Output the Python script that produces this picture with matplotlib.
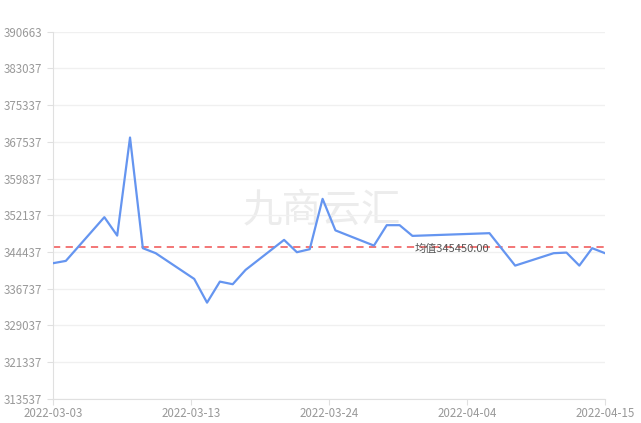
import numpy as np
import pandas as pd
import matplotlib
matplotlib.use("Agg")
import matplotlib.pyplot as plt

plt.rcParams['font.family'] = ['Noto Sans CJK SC', 'DejaVu Sans']

# days after 2022-03-03 that carry a value, and the values
day_offsets = [0, 1, 4, 5, 6, 7, 8, 11, 12, 13, 14, 15, 18, 19, 20, 21, 22,
               25, 26, 27, 28, 34, 36, 39, 40, 41, 42, 43]
prices = [342075, 342558, 351748, 347879, 368488, 345229, 344178, 338773,
          333789, 338205, 337658, 340666, 346975, 344387, 345019, 355597,
          348973, 345776, 350066, 350066, 347816, 348384, 341570, 344178,
          344304, 341570, 345229, 344178]
mean_value = 345450.00
y_ticks = [313537, 321337, 329037, 336737, 344437, 352137, 359837, 367537,
           375337, 383037, 390663]
x_tick_labels = ["2022-03-03", "2022-03-13", "2022-03-24", "2022-04-04", "2022-04-15"]

start = pd.Timestamp("2022-03-03")
dates = [start + pd.Timedelta(days=d) for d in day_offsets]
x_num = matplotlib.dates.date2num(dates)

fig = plt.figure(figsize=(6.41, 4.23), dpi=100)
ax = fig.add_axes([53 / 641, 1 - 399 / 423, 552 / 641, 367 / 423])

ax.text(0.487, 0.51, "九商云汇", transform=ax.transAxes, fontsize=28.5,
        color="#ececec", ha="center", va="center", zorder=0)

ax.plot(x_num, prices, color="#6595f0", lw=1.6, zorder=3)
ax.axhline(mean_value, color="#f26b6b", lw=1.3, ls=(0, (4, 3)), zorder=2)
ax.text(matplotlib.dates.date2num(start + pd.Timedelta(days=28.2)), mean_value - 350,
        f"均值{mean_value:.2f}", fontsize=8, color="#555555",
        ha="left", va="center", zorder=4)

ax.set_ylim(y_ticks[0], y_ticks[-1])
ax.set_yticks(y_ticks)
ax.set_yticklabels([str(v) for v in y_ticks])
x0 = x_num[0]
x1 = x_num[-1]
ax.set_xlim(x0, x1)
ax.set_xticks(np.linspace(x0, x1, len(x_tick_labels)))
ax.set_xticklabels(x_tick_labels)

ax.grid(axis="y", color="#f0f0f0", lw=1)
ax.set_axisbelow(True)
for s in ["top", "right"]:
    ax.spines[s].set_visible(False)
ax.spines["left"].set_color("#e0e0e0")
ax.spines["bottom"].set_color("#e0e0e0")
ax.tick_params(axis="both", colors="#e0e0e0", labelcolor="#999999",
               labelsize=8.3, length=4)
ax.tick_params(axis="y", pad=4)
ax.tick_params(axis="x", pad=2)

fig.savefig("out.png", dpi=100)
